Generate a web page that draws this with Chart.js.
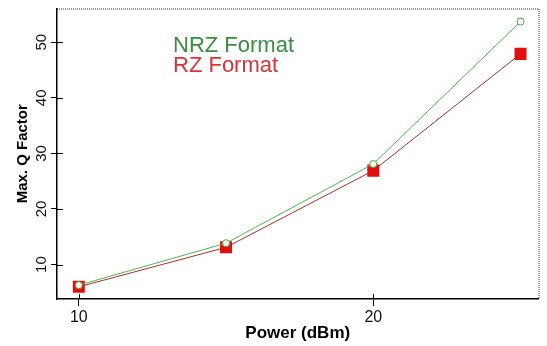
<!DOCTYPE html>
<html>
<head>
<meta charset="utf-8">
<script src="https://cdn.jsdelivr.net/npm/chart.js@4/dist/chart.umd.min.js"></script>
<style>
  html, body { margin: 0; padding: 0; background: #fff; }
  canvas { display: block; }
</style>
</head>
<body>
<canvas id="chart" width="547" height="346"></canvas>
<script>
// values
const powers = [10, 15, 20, 25];
const nrzQ = [6.3, 13.85, 28.1, 53.7];
const rzQ = [6.0, 13.1, 26.9, 47.9];
const xTicks = [10, 20];
const yTicks = [10, 20, 30, 40, 50];

// dotted top/right frame, crossing tick marks and the in-plot legend text
const framePlugin = {
  id: "frame",
  afterDraw(chart) {
    const ctx = chart.ctx;
    const a = chart.chartArea;
    ctx.save();
    ctx.strokeStyle = "#333";
    ctx.lineWidth = 1;
    ctx.setLineDash([1, 1]);
    ctx.beginPath();
    ctx.moveTo(a.left, a.top + 0.5);
    ctx.lineTo(a.right + 0.5, a.top + 0.5);
    ctx.lineTo(a.right + 0.5, a.bottom);
    ctx.stroke();
    ctx.setLineDash([]);

    // inner half of the ticks
    ctx.strokeStyle = "#000";
    ctx.beginPath();
    chart.scales.x.ticks.forEach((t) => {
      const px = Math.round(chart.scales.x.getPixelForValue(t.value)) + 0.5;
      ctx.moveTo(px, a.bottom);
      ctx.lineTo(px, a.bottom - 5);
    });
    chart.scales.y.ticks.forEach((t) => {
      const py = Math.round(chart.scales.y.getPixelForValue(t.value)) + 0.5;
      ctx.moveTo(a.left, py);
      ctx.lineTo(a.left + 6, py);
    });
    ctx.stroke();

    // legend text
    ctx.font = "22px 'Liberation Sans', Arial, sans-serif";
    ctx.textBaseline = "alphabetic";
    ctx.textAlign = "left";
    const cols = ["#3b8c44", "#d6343a"];
    chart.data.datasets.forEach((ds, i) => {
      ctx.fillStyle = cols[i];
      ctx.fillText(ds.label, 173, 52 + i * 20);
    });
    ctx.restore();
  },
};

new Chart(document.getElementById("chart"), {
  type: "line",
  data: {
    datasets: [
      {
        label: "NRZ Format",
        data: powers.map((p, i) => ({ x: p, y: nrzQ[i] })),
        borderColor: "#4cb84c",
        borderWidth: 1,
        pointStyle: "circle",
        pointRadius: 3.5,
        pointBorderWidth: 1,
        pointBorderColor: "#3cae3c",
        pointBackgroundColor: "#fff",
      },
      {
        label: "RZ Format",
        data: powers.map((p, i) => ({ x: p, y: rzQ[i] })),
        borderColor: "#a03030",
        borderWidth: 1,
        pointStyle: "rect",
        pointRadius: 8.5,
        pointBorderWidth: 0,
        pointBackgroundColor: "#e30e0e",
      },
    ],
  },
  options: {
    responsive: false,
    animation: false,
    layout: { padding: { left: 0, right: 0, top: 6, bottom: 0 } },
    plugins: {
      legend: { display: false },
      tooltip: { enabled: false },
    },
    scales: {
      x: {
        type: "linear",
        min: 9.26,
        max: 25.61,
        afterBuildTicks: (s) => { s.ticks = xTicks.map((v) => ({ value: v })); },
        afterFit: (s) => { s.height = 47; },
        border: { display: true, color: "#000", width: 1.5 },
        grid: { drawOnChartArea: false, tickLength: 7, color: "#000" },
        ticks: {
          color: "#111",
          padding: 2,
          maxRotation: 0,
          font: { family: "'Liberation Sans', Arial, sans-serif", size: 16 },
        },
        title: {
          display: true,
          text: "Power (dBm)",
          color: "#000",
          padding: { top: 0, bottom: 2 },
          font: { family: "'Liberation Sans', Arial, sans-serif", size: 17, weight: "bold" },
        },
      },
      y: {
        min: 3.81,
        max: 56.06,
        afterBuildTicks: (s) => { s.ticks = yTicks.map((v) => ({ value: v })); },
        afterFit: (s) => { s.width = 57; s.paddingTop = 0; s.paddingBottom = 0; },
        border: { display: true, color: "#000", width: 1.5 },
        grid: { drawOnChartArea: false, tickLength: 6, color: "#000" },
        ticks: {
          color: "#111",
          padding: 1,
          minRotation: 90,
          maxRotation: 90,
          crossAlign: "center",
          font: { family: "'Liberation Sans', Arial, sans-serif", size: 15 },
        },
        title: {
          display: true,
          text: "Max. Q Factor",
          color: "#000",
          padding: { top: 14, bottom: 0 },
          font: { family: "'Liberation Sans', Arial, sans-serif", size: 15, weight: "bold" },
        },
      },
    },
  },
  plugins: [framePlugin],
});
</script>
</body>
</html>
